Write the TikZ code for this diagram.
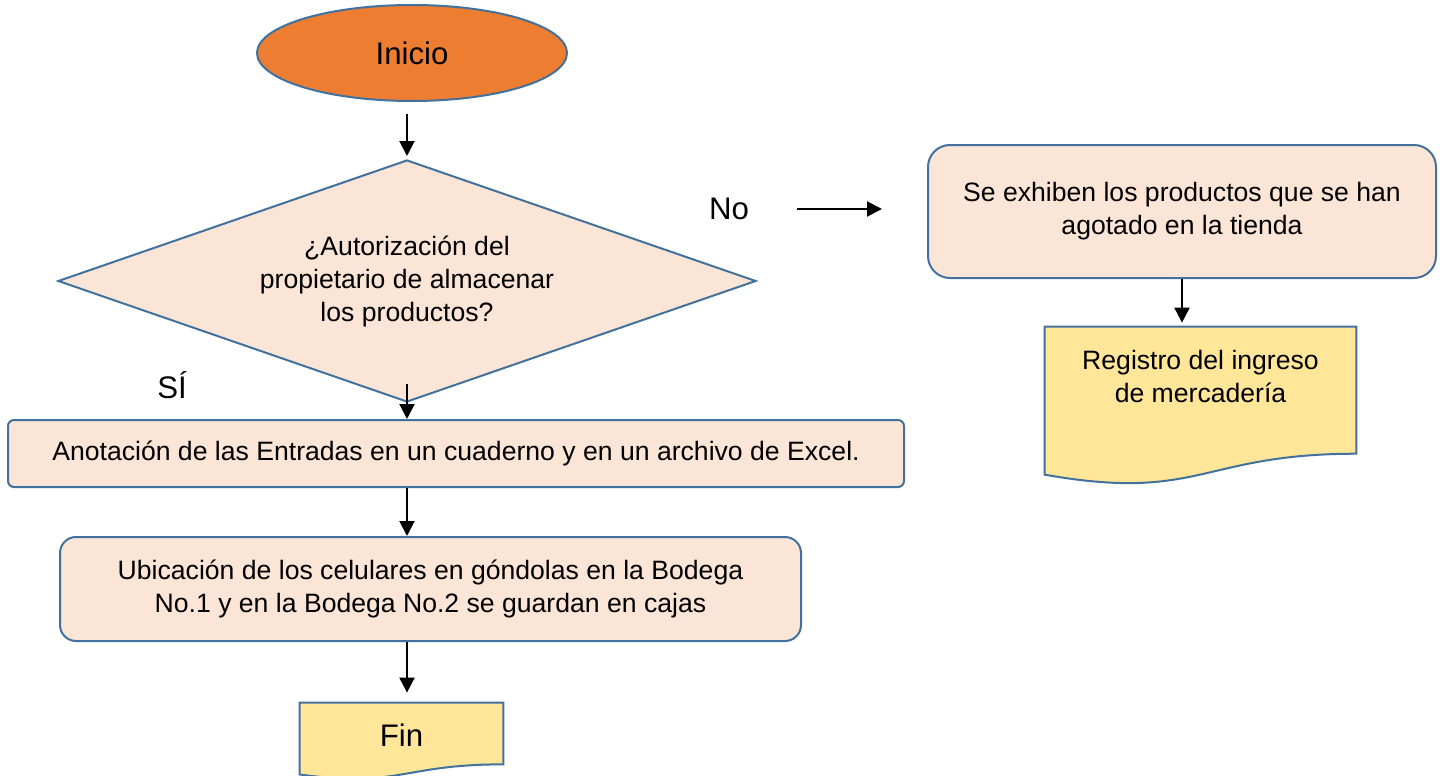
\documentclass[tikz,border=0pt]{standalone}
\usepackage{fontspec}
\setmainfont{Liberation Sans}
\usetikzlibrary{arrows.meta, shapes.geometric, calc, backgrounds}

\definecolor{borde}{RGB}{65,113,156}
\definecolor{naranja}{RGB}{237,125,49}
\definecolor{durazno}{RGB}{251,229,214}
\definecolor{amarillo}{RGB}{255,230,153}

\newcommand{\cuerpo}{\fontsize{13.3}{16.5}\selectfont}
\newcommand{\grande}{\fontsize{15.6}{18}\selectfont}

\tikzset{
  caja/.style={rectangle, rounded corners=#1, draw=borde, line width=1pt, fill=durazno, align=center, font=\cuerpo, inner sep=0pt},
  caja/.default=4pt,
  flecha/.style={-{Triangle[length=7.5pt,width=7.5pt]}, line width=1pt, black},
  docborde/.style={draw=borde, line width=1pt, fill=amarillo},
  doctexto/.style={rectangle, inner sep=0pt, align=center},
}

% wavy document outline behind a text node, #2 = full height
\newcommand{\docforma}[2]{%
  \begin{pgfonlayer}{background}
    \draw[docborde] (#1.north west) -- (#1.north east) -- ++(0,0.802*#2)
      .. controls ($(#1.north)+(0,0.802*#2)$) and ($(#1.north)+(0,1.108*#2)$) ..
      ($(#1.north west)+(0,0.934*#2)$) -- cycle;
  \end{pgfonlayer}}

\begin{document}
\begin{tikzpicture}[x=0.5pt, y=-0.5pt]
      \useasboundingbox (0,0) rectangle (1442,776);

      \node[ellipse, draw=borde, line width=1pt, fill=naranja, minimum width=155pt, minimum height=48pt, inner sep=0pt, font=\grande] (inicio) at (412,53) {Inicio};
      \node[diamond, aspect=2.88, draw=borde, line width=1pt, fill=durazno, minimum width=349pt, minimum height=121pt, inner sep=0pt, align=center, font=\cuerpo] (dec) at (407,281) {¿Autorización del\\propietario de almacenar\\los productos?};

      \node[caja=3pt, minimum width=448pt, minimum height=33.5pt] (anot) at (456,453.5) {Anotación de las Entradas en un cuaderno y en un archivo de Excel.};
      \node[caja=8pt, minimum width=370.5pt, minimum height=52pt] (ubic) at (430.5,589) {Ubicación de los celulares en góndolas en la Bodega\\No.1 y en la Bodega No.2 se guardan en cajas};
      \node[doctexto, minimum width=101.5pt, minimum height=32pt, font=\grande] (fin) at (401.5,735) {Fin};

      \node[caja=11pt, minimum width=254pt, minimum height=66.5pt] (exhib) at (1182,211.5) {Se exhiben los productos que se han\\agotado en la tienda};
      \node[doctexto, minimum width=155.5pt, minimum height=49pt, font=\cuerpo] (reg) at (1200.5,376) {Registro del ingreso\\de mercadería};

      \node[font=\grande, inner sep=0pt] (si) at (172,385) {SÍ};
      \node[font=\grande, inner sep=0pt] (no) at (729,209) {No};
      \coordinate (nofin) at (882,209);

      \docforma{fin}{77}
      \docforma{reg}{158.5}

      \draw[flecha, shorten <=6pt, shorten >=1.5pt] (inicio.south -| dec.north) -- (dec.north);
      \draw[flecha, shorten <=-9.5pt] (dec.south) -- (dec.south |- anot.north);
      \draw[flecha] (anot.south -| dec.south) -- (ubic.north -| dec.south);
      \draw[flecha, shorten >=5pt] (ubic.south -| dec.south) -- (fin.north -| dec.south);
      \draw[flecha, shorten >=2pt] (exhib.south) -- (exhib.south |- reg.north);
      \draw[flecha, shorten <=24pt] (no.east) -- (nofin);

\end{tikzpicture}
\end{document}
